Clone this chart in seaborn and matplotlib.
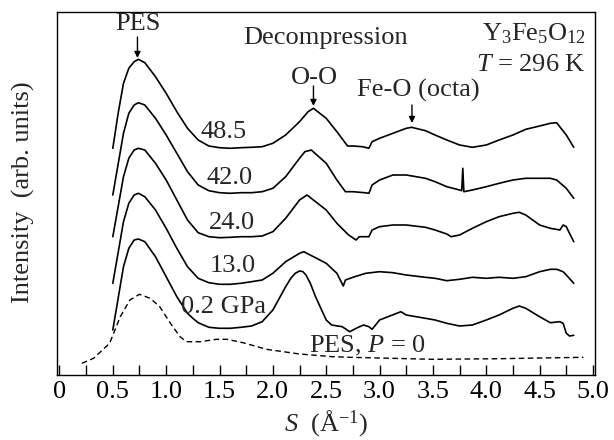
import numpy as np
import pandas as pd
import matplotlib
matplotlib.use("Agg")
import matplotlib.pyplot as plt
import seaborn as sns

# ---------------- data (heights in arbitrary units) ----------------
s_485 = [0.5, 0.55, 0.6, 0.65, 0.7, 0.74, 0.8, 0.9, 1.0, 1.1, 1.2, 1.3, 1.4, 1.5, 1.6, 1.7, 1.8, 1.9,
         2.0, 2.12, 2.25, 2.33, 2.38, 2.5, 2.6, 2.7, 2.75, 2.84, 2.9, 2.93, 3.0, 3.125, 3.25, 3.3,
         3.43, 3.52, 3.63, 3.75, 3.87, 4.0, 4.12, 4.25, 4.37, 4.5, 4.6, 4.66, 4.7, 4.75, 4.82]
i_485 = [226.7, 261.7, 291.7, 306.7, 313.3, 315.7, 312.3, 298.3, 281.7, 263.3, 246.7, 235, 229, 227.3,
         226.7, 227.3, 227.7, 228.3, 231.7, 240, 253.3, 263.3, 266.7, 256.7, 243.3, 229, 229, 228.3,
         226.7, 233.3, 236.7, 241.7, 246.7, 247.7, 244.3, 240, 235, 230, 227.7, 230, 235, 240, 245.7,
         249, 251.7, 252.3, 246.7, 240, 227.7]

s_420 = [0.5, 0.6, 0.65, 0.7, 0.74, 0.8, 0.9, 1.0, 1.1, 1.2, 1.3, 1.4, 1.5, 1.6, 1.7, 1.8, 1.9,
         2.0, 2.12, 2.25, 2.3, 2.36, 2.5, 2.6, 2.68, 2.75, 2.86, 2.9, 2.93, 3.0, 3.125, 3.25, 3.43,
         3.52, 3.63, 3.75, 3.77, 3.78, 3.79, 3.87, 4.0, 4.12, 4.25, 4.37, 4.5, 4.6, 4.66, 4.75, 4.82]
i_420 = [180, 241.7, 261.7, 270, 272.3, 270, 256.7, 240, 221.7, 203.3, 190, 184.3, 182.3, 181.7,
         182.3, 182.3, 183.3, 186.7, 198.3, 216.7, 223.3, 225, 211.7, 195, 183.3, 183.3, 182.3,
         181.7, 190, 195, 200, 200, 196.7, 193.3, 188.3, 185, 184.3, 206.7, 183.3, 185, 188.3,
         191.7, 195, 196.7, 196.7, 196.7, 195, 186.7, 176.7]

s_240 = [0.5, 0.6, 0.65, 0.7, 0.74, 0.8, 0.9, 1.0, 1.1, 1.2, 1.3, 1.4, 1.5, 1.6, 1.7, 1.8, 1.9,
         2.0, 2.12, 2.25, 2.32, 2.5, 2.6, 2.71, 2.78, 2.81, 2.9, 2.93, 3.0, 3.125, 3.25, 3.43, 3.52,
         3.63, 3.67, 3.75, 3.87, 4.0, 4.12, 4.25, 4.31, 4.37, 4.5, 4.6, 4.69, 4.72, 4.75, 4.78, 4.82]
i_240 = [138.3, 198.3, 216.7, 225, 226.7, 225, 211.7, 195, 175, 155, 142.3, 138.3, 137.3, 137.7,
         138.3, 138.3, 139, 143.3, 156.7, 175, 180, 165, 151.7, 140, 135, 138.3, 138.3, 145, 148.3,
         150, 150, 147.7, 145, 141, 138.3, 140, 146.7, 153.3, 158.3, 161.7, 162.7, 160, 150, 146.7,
         145, 150, 148.3, 141.7, 133.3]

s_130 = [0.5, 0.6, 0.65, 0.7, 0.74, 0.8, 0.9, 1.0, 1.1, 1.2, 1.3, 1.4, 1.5, 1.6, 1.7, 1.8, 1.9,
         2.0, 2.12, 2.25, 2.29, 2.5, 2.6, 2.66, 2.68, 2.75, 2.87, 3.0, 3.125, 3.25, 3.43, 3.52, 3.63,
         3.75, 3.87, 4.0, 4.12, 4.25, 4.37, 4.5, 4.6, 4.66, 4.72, 4.75, 4.82]
i_130 = [91.7, 153.3, 171.7, 180, 181.7, 178.3, 165, 146.7, 126.7, 108.3, 96.7, 92.3, 90.7, 90.7,
         91.7, 93.3, 95, 101.7, 113.3, 121.7, 123.3, 111.7, 101.7, 89, 95, 97.7, 101.7, 103.3, 102.3,
         100, 97.7, 96.7, 94.3, 95.7, 97.7, 96.7, 97.7, 96.7, 98.3, 103.3, 105.7, 105.7, 103.3, 100,
         91.7]

s_002 = [0.5, 0.6, 0.65, 0.7, 0.74, 0.8, 0.9, 1.0, 1.1, 1.2, 1.25, 1.3, 1.4, 1.5, 1.6, 1.7, 1.8,
         1.9, 2.0, 2.12, 2.17, 2.21, 2.25, 2.28, 2.31, 2.35, 2.4, 2.5, 2.55, 2.65, 2.72, 2.8, 2.85,
         2.9, 2.93, 3.0, 3.12, 3.2, 3.25, 3.43, 3.52, 3.63, 3.75, 3.87, 4.0, 4.12, 4.25, 4.31, 4.37,
         4.5, 4.6, 4.69, 4.72, 4.75, 4.78, 4.82]
i_002 = [45, 108.3, 126.7, 135, 136, 133.3, 118.3, 98.3, 78.3, 61.7, 56.7, 52.3, 47.7, 46.7, 46.7,
         47.7, 49, 53.3, 65, 88.3, 97, 101.7, 104, 103.5, 100, 92, 78.3, 55, 50, 48.3, 43.3, 47.7,
         50, 48.3, 45.7, 55, 60, 63.3, 60, 56.7, 55, 51.7, 49, 50, 55, 60, 66.7, 69, 66.7, 58.3,
         52.3, 53.3, 51.7, 41.7, 39, 39.7]

s_pes = [0.21, 0.32, 0.47, 0.57, 0.66, 0.75, 0.85, 0.94, 1.04, 1.13, 1.19, 1.32, 1.47, 1.57,
         1.72, 1.94, 2.25, 2.56, 2.72, 3.5, 4.13, 4.91]
i_pes = [11.7, 16.7, 31.7, 58.3, 75, 80.7, 76.7, 68.3, 51.7, 38.3, 33.3, 33.3, 35.7, 35.7, 32.3,
         25.7, 21, 18.3, 17.7, 15.7, 16.3, 17.7]

pressure_labels = ["48.5", "42.0", "24.0", "13.0", "0.2 GPa"]
xtick_values = [0, 0.5, 1.0, 1.5, 2.0, 2.5, 3.0, 3.5, 4.0, 4.5, 5.0]
xtick_labels = ["0", "0.5", "1.0", "1.5", "2.0", "2.5", "3.0", "3.5", "4.0", "4.5", "5.0"]

# ---------------- style ----------------
sns.set_style("white")
plt.rcParams["font.family"] = ["Liberation Serif", "DejaVu Serif"]
plt.rcParams["mathtext.fontset"] = "custom"
plt.rcParams["mathtext.rm"] = "Liberation Serif"
plt.rcParams["mathtext.it"] = "Liberation Serif:italic"

FS = 19
fig = plt.figure(figsize=(6.14, 4.40), dpi=100)
ax = fig.add_axes([57 / 614, 1 - 375 / 440, (595 - 57) / 614, (375 - 12) / 440])

frames = []
for name, s, i in [("48.5", s_485, i_485), ("42.0", s_420, i_420), ("24.0", s_240, i_240),
                   ("13.0", s_130, i_130), ("0.2", s_002, i_002)]:
    frames.append(pd.DataFrame({"S": s, "I": i, "P": name}))
df = pd.concat(frames, ignore_index=True)

for name, sub in df.groupby("P", sort=False):
    sns.lineplot(data=sub, x="S", y="I", color="black", linewidth=1.2, ax=ax,
                 sort=False, estimator=None)

df_pes = pd.DataFrame({"S": s_pes, "I": i_pes})
sns.lineplot(data=df_pes, x="S", y="I", color="black", linewidth=1.0, ax=ax,
             sort=False, estimator=None, linestyle=(0, (4, 2.5)))

ax.set_xlim(-0.023, 5.019)
ax.set_ylim(0, 363)
ax.set_xticks(xtick_values)
ax.set_xticklabels(xtick_labels, fontsize=FS)
ax.set_xticks(np.arange(0.25, 5.0, 0.5), minor=True)
ax.tick_params(axis="x", which="both", direction="in", length=7, width=1, bottom=True,
               top=False, pad=4, colors="black")
ax.set_yticks([])
for sp in ax.spines.values():
    sp.set_visible(True)
    sp.set_color("black")
    sp.set_linewidth(1.0)

ax.set_xlabel(r"$S$  (Å$^{-1}$)", fontsize=FS)
ax.xaxis.set_label_coords(0.5, (375 - 424) / 363)
ax.xaxis.label.set_va("center")
ax.set_ylabel("Intensity  (arb. units)", fontsize=FS)
ax.yaxis.set_label_coords((23 - 57) / 538, (375 - 192) / 363)
ax.yaxis.label.set_va("center")


def px(x, y):
    return ((x - 59.5) / 106.7, 375 - y)


# pressure labels
label_px = [(224, 132), (230, 178), (232, 223), (233, 266), (224, 307)]
for lab, (x, y) in zip(pressure_labels, label_px):
    ax.text(*px(x, y), lab, fontsize=FS, ha="center", va="center")

ax.text(*px(326, 38), "Decompression", fontsize=FS, ha="center", va="center")
ax.text(*px(586, 34), r"Y$_3$Fe$_5$O$_{12}$", fontsize=FS, ha="right", va="center")
ax.text(*px(586, 65), r"$T$ = 296 K", fontsize=FS, ha="right", va="center")
ax.text(*px(368, 346), r"PES, $P$ = 0", fontsize=FS, ha="center", va="center")

arrow = dict(arrowstyle="-|>", color="black", lw=1.0, mutation_scale=9, shrinkA=0, shrinkB=0)
ax.text(*px(137.5, 24), "PES", fontsize=FS, ha="center", va="center")
ax.annotate("", xy=px(137.5, 58), xytext=px(137.5, 37), arrowprops=arrow)
ax.text(*px(314, 78), "O-O", fontsize=FS, ha="center", va="center")
ax.annotate("", xy=px(313.5, 106), xytext=px(313.5, 86), arrowprops=arrow)
ax.text(*px(418, 90), "Fe-O (octa)", fontsize=FS, ha="center", va="center")
ax.annotate("", xy=px(412, 123), xytext=px(412, 105), arrowprops=arrow)

fig.savefig("out.png", dpi=100)
